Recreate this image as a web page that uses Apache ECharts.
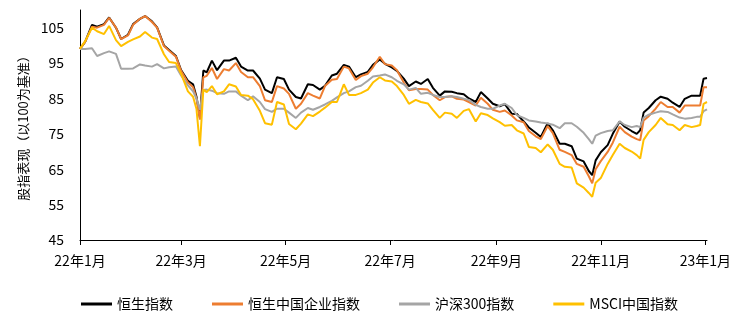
<!DOCTYPE html>
<html>
<head>
<meta charset="utf-8">
<script src="https://cdn.jsdelivr.net/npm/echarts@6/dist/echarts.min.js"></script>
<style>
html,body{margin:0;padding:0;background:#fff;}
#chart{width:745px;height:324px;}
</style>
</head>
<body>
<div id="chart"></div>
<script>
const dates = [
'2022-01-01','2022-01-04','2022-01-08','2022-01-11','2022-01-15','2022-01-18','2022-01-22','2022-01-25','2022-01-29','2022-02-01',
'2022-02-05','2022-02-08','2022-02-12','2022-02-15','2022-02-19','2022-02-22','2022-02-26','2022-03-01','2022-03-05','2022-03-08',
'2022-03-10','2022-03-12','2022-03-14','2022-03-16','2022-03-19','2022-03-22','2022-03-26','2022-03-29','2022-04-02','2022-04-05',
'2022-04-09','2022-04-12','2022-04-16','2022-04-19','2022-04-23','2022-04-26','2022-04-30','2022-05-03','2022-05-07','2022-05-10',
'2022-05-14','2022-05-17','2022-05-21','2022-05-24','2022-05-28','2022-05-31','2022-06-04','2022-06-07','2022-06-11','2022-06-14',
'2022-06-18','2022-06-21','2022-06-25','2022-06-28','2022-07-02','2022-07-05','2022-07-09','2022-07-12','2022-07-16','2022-07-19',
'2022-07-23','2022-07-26','2022-07-30','2022-08-02','2022-08-06','2022-08-09','2022-08-13','2022-08-16','2022-08-20','2022-08-23',
'2022-08-27','2022-08-30','2022-09-03','2022-09-06','2022-09-10','2022-09-13','2022-09-17','2022-09-20','2022-09-24','2022-09-27',
'2022-10-01','2022-10-04','2022-10-08','2022-10-11','2022-10-15','2022-10-18','2022-10-22','2022-10-25','2022-10-27','2022-10-29',
'2022-11-01','2022-11-05','2022-11-08','2022-11-12','2022-11-15','2022-11-19','2022-11-22','2022-11-24','2022-11-26','2022-11-29',
'2022-12-03','2022-12-06','2022-12-10','2022-12-13','2022-12-17','2022-12-20','2022-12-24','2022-12-27','2022-12-29','2022-12-31',
'2023-01-02'
];

const hsi = [
99.0,101.0,105.8,105.3,106.0,107.9,105.0,101.8,103.0,106.0,
107.5,108.3,106.8,105.1,100.0,98.7,97.0,93.0,90.0,89.0,
85.5,79.5,92.9,92.4,95.7,93.0,95.7,95.7,96.5,94.0,
92.9,92.9,90.6,87.5,86.5,91.0,90.5,87.5,85.4,85.0,
89.0,88.8,87.5,88.6,91.5,92.0,94.5,94.0,91.0,91.8,
92.5,94.5,96.0,94.8,93.8,92.8,90.6,88.5,89.8,89.1,
90.5,88.0,85.8,87.0,86.9,86.5,86.2,85.0,84.0,86.8,
85.0,83.5,82.8,83.4,80.7,80.6,78.5,76.8,75.3,74.1,
78.0,76.0,72.2,72.2,71.5,68.0,67.2,64.5,63.3,67.5,
69.8,71.8,75.0,78.5,77.0,75.8,75.0,76.0,81.0,82.3,
84.5,85.5,84.9,83.8,82.6,84.9,85.8,85.8,85.8,90.6,
90.8
];

const hscei = [
99.0,101.0,105.3,105.0,105.8,107.8,105.0,101.8,102.8,105.8,
107.5,108.3,106.6,105.0,99.8,98.5,96.8,92.8,89.5,88.2,
85.0,79.0,91.0,91.4,93.6,90.5,93.3,92.9,95.0,92.5,
91.0,91.0,88.5,84.5,84.0,88.5,87.8,86.3,82.1,83.5,
86.5,85.8,85.0,88.5,90.3,90.5,94.0,93.5,90.2,91.3,
92.0,93.8,96.8,94.7,94.3,93.0,89.5,87.3,87.7,87.7,
87.5,86.0,84.5,85.4,85.6,84.9,84.7,84.0,83.0,85.2,
83.5,81.8,81.2,81.6,80.2,78.8,78.3,75.8,74.3,73.5,
77.2,75.2,70.5,69.9,69.0,66.5,65.7,63.0,61.0,65.0,
67.3,69.9,72.5,77.0,75.5,74.2,73.5,73.2,78.8,80.0,
82.1,84.0,82.6,82.6,81.0,83.0,83.0,83.0,83.0,88.2,
88.2
];

const csi300 = [
99.0,99.0,99.2,97.0,97.8,98.3,97.6,93.4,93.4,93.5,
94.6,94.3,94.0,94.7,93.5,93.8,94.0,91.5,88.7,87.0,
85.0,81.8,87.4,87.5,87.2,86.5,86.3,87.0,87.0,85.8,
84.5,85.6,84.0,82.0,81.2,82.1,82.1,81.0,79.5,81.0,
82.3,81.8,82.6,83.3,84.3,85.3,86.5,87.0,88.2,88.6,
90.0,91.2,91.5,91.8,91.0,90.0,89.0,87.5,88.0,86.3,
86.6,86.0,85.4,85.4,85.6,85.4,84.9,84.6,83.2,82.6,
82.1,82.1,83.0,83.5,82.3,80.3,79.5,78.8,78.5,78.2,
77.9,77.6,76.6,78.0,78.0,77.0,75.3,73.5,72.2,74.5,
75.2,75.8,76.0,78.5,77.5,76.9,77.2,76.9,79.6,80.4,
81.0,81.4,81.2,80.5,79.6,79.3,79.5,79.8,79.8,81.4,
81.9
];

const msci = [
99.0,101.2,105.0,104.0,103.2,105.5,101.5,99.8,101.0,101.7,
102.5,103.8,102.2,101.8,97.5,95.3,95.0,92.0,87.0,85.5,
82.0,71.5,87.5,86.8,88.5,86.2,87.0,89.0,88.4,86.0,
85.8,84.8,81.5,78.0,77.6,84.0,83.3,77.8,76.3,77.9,
80.5,80.0,81.3,82.4,84.0,84.0,89.0,86.0,86.0,86.5,
87.5,89.5,91.0,90.1,89.8,88.5,86.0,83.5,84.6,84.0,
83.6,81.8,79.5,81.0,80.7,79.5,81.5,82.0,78.5,80.8,
80.3,79.4,78.3,77.3,77.5,76.0,75.1,71.3,71.0,69.8,
72.0,70.5,66.5,65.7,65.5,61.0,59.8,58.3,57.2,61.2,
62.5,66.5,69.0,72.2,71.0,70.0,69.0,68.0,73.3,75.5,
77.5,79.5,77.7,77.5,76.0,77.5,76.9,77.2,77.5,83.5,
84.0
];

const seriesNames = ['恒生指数','恒生中国企业指数','沪深300指数','MSCI中国指数'];
const seriesColors = ['#000000','#ED7D31','#A5A5A5','#FFC000'];
const xTickDates = ['2022-01-01','2022-03-01','2022-05-01','2022-07-01','2022-09-01','2022-11-01','2023-01-01'];
const xTickLabels = ['22年1月','22年3月','22年5月','22年7月','22年9月','22年11月','23年1月'];
const yTicks = [45,55,65,75,85,95,105];
const yName = '股指表现（以100为基准）';

function ts(s){const p=s.split('-').map(Number);return Date.UTC(p[0],p[1]-1,p[2]);}
const xTickVals = xTickDates.map(ts);
function xLabel(v){
  let best=0,bd=Infinity;
  xTickVals.forEach((t,i)=>{const d=Math.abs(t-v);if(d<bd){bd=d;best=i;}});
  return xTickLabels[best];
}
const FONT = '"Noto Sans CJK SC","Noto Sans",sans-serif';
const allValues = [hsi,hscei,csi300,msci];

const chart = echarts.init(document.getElementById('chart'), null, {renderer:'canvas'});
chart.setOption({
  animation:false,
  backgroundColor:'#fff',
  textStyle:{fontFamily:FONT},
  grid:{left:80,right:38,top:10,bottom:84,containLabel:false,outerBoundsMode:'none'},
  legend:{
    data:seriesNames,
    left:76, top:292,
    icon:'rect', itemWidth:31, itemHeight:3, itemGap:39,
    textStyle:{fontSize:14,color:'#000',fontFamily:FONT}
  },
  xAxis:{
    type:'value',
    min:ts('2022-01-01'), max:ts('2023-01-02'),
    axisLine:{show:true,lineStyle:{color:'#000',width:1}},
    axisTick:{show:true,customValues:xTickVals,length:5,lineStyle:{color:'#000'}},
    axisLabel:{customValues:xTickVals,formatter:xLabel,margin:14,fontSize:14,color:'#000',fontFamily:FONT},
    splitLine:{show:false}
  },
  yAxis:{
    type:'value', min:45, max:110,
    name:yName, nameLocation:'middle', nameGap:50, nameRotate:90,
    nameTextStyle:{fontSize:13,color:'#000',fontFamily:FONT},
    axisLine:{show:true,lineStyle:{color:'#000',width:1}},
    axisTick:{show:false},
    axisLabel:{customValues:yTicks,margin:16,fontSize:14,color:'#000',fontFamily:FONT},
    splitLine:{show:false}
  },
  series: seriesNames.map((n,k)=>({
    name:n, type:'line', showSymbol:false, symbol:'none',
    lineStyle:{width:2,color:seriesColors[k]},
    itemStyle:{color:seriesColors[k]},
    data: dates.map((d,i)=>[ts(d), allValues[k][i]])
  }))
});
</script>
</body>
</html>
